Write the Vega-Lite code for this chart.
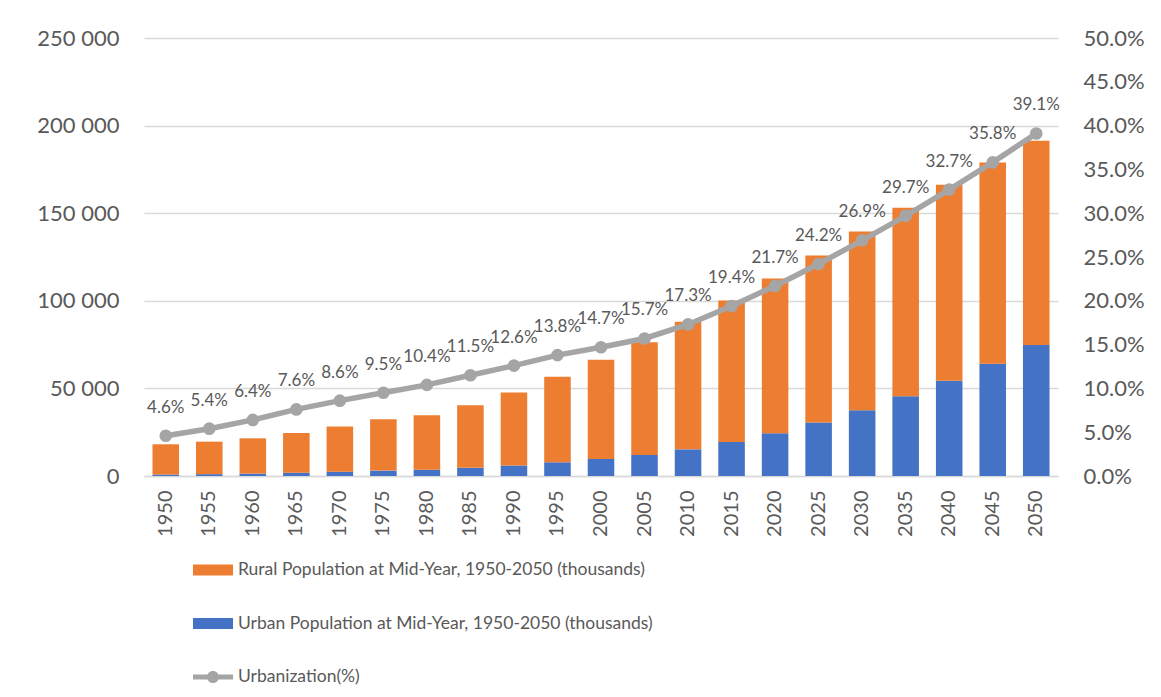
{
  "$schema": "https://vega.github.io/schema/vega-lite/v6.json",
  "width": 914,
  "height": 438,
  "autosize": {"type": "none"},
  "padding": {"left": 144, "top": 38, "right": 103, "bottom": 221},
  "background": "white",
  "config": {
    "view": {"stroke": null},
    "font": "Lato",
    "axis": {"labelColor": "#595959", "labelFont": "Lato", "title": null, "domain": false, "ticks": false, "tickSize": 0},
    "legend": {"labelFont": "Lato", "labelFontSize": 17.5, "labelColor": "#595959", "padding": 0, "offset": 0, "symbolSize": 1600, "rowPadding": 24.5, "labelOffset": 5, "title": null, "labelLimit": 0}
  },
  "datasets": {
    "pop": [
      {"year": "1950", "series": "Urban Population at Mid-Year, 1950-2050 (thousands)", "value": 830},
      {"year": "1950", "series": "Rural Population at Mid-Year, 1950-2050 (thousands)", "value": 17270},
      {"year": "1955", "series": "Urban Population at Mid-Year, 1950-2050 (thousands)", "value": 1060},
      {"year": "1955", "series": "Rural Population at Mid-Year, 1950-2050 (thousands)", "value": 18540},
      {"year": "1960", "series": "Urban Population at Mid-Year, 1950-2050 (thousands)", "value": 1380},
      {"year": "1960", "series": "Rural Population at Mid-Year, 1950-2050 (thousands)", "value": 20120},
      {"year": "1965", "series": "Urban Population at Mid-Year, 1950-2050 (thousands)", "value": 1870},
      {"year": "1965", "series": "Rural Population at Mid-Year, 1950-2050 (thousands)", "value": 22730},
      {"year": "1970", "series": "Urban Population at Mid-Year, 1950-2050 (thousands)", "value": 2430},
      {"year": "1970", "series": "Rural Population at Mid-Year, 1950-2050 (thousands)", "value": 25770},
      {"year": "1975", "series": "Urban Population at Mid-Year, 1950-2050 (thousands)", "value": 3080},
      {"year": "1975", "series": "Rural Population at Mid-Year, 1950-2050 (thousands)", "value": 29320},
      {"year": "1980", "series": "Urban Population at Mid-Year, 1950-2050 (thousands)", "value": 3610},
      {"year": "1980", "series": "Rural Population at Mid-Year, 1950-2050 (thousands)", "value": 31090},
      {"year": "1985", "series": "Urban Population at Mid-Year, 1950-2050 (thousands)", "value": 4650},
      {"year": "1985", "series": "Rural Population at Mid-Year, 1950-2050 (thousands)", "value": 35750},
      {"year": "1990", "series": "Urban Population at Mid-Year, 1950-2050 (thousands)", "value": 6000},
      {"year": "1990", "series": "Rural Population at Mid-Year, 1950-2050 (thousands)", "value": 41600},
      {"year": "1995", "series": "Urban Population at Mid-Year, 1950-2050 (thousands)", "value": 7820},
      {"year": "1995", "series": "Rural Population at Mid-Year, 1950-2050 (thousands)", "value": 48880},
      {"year": "2000", "series": "Urban Population at Mid-Year, 1950-2050 (thousands)", "value": 9750},
      {"year": "2000", "series": "Rural Population at Mid-Year, 1950-2050 (thousands)", "value": 56550},
      {"year": "2005", "series": "Urban Population at Mid-Year, 1950-2050 (thousands)", "value": 12000},
      {"year": "2005", "series": "Rural Population at Mid-Year, 1950-2050 (thousands)", "value": 64400},
      {"year": "2010", "series": "Urban Population at Mid-Year, 1950-2050 (thousands)", "value": 15220},
      {"year": "2010", "series": "Rural Population at Mid-Year, 1950-2050 (thousands)", "value": 72780},
      {"year": "2015", "series": "Urban Population at Mid-Year, 1950-2050 (thousands)", "value": 19440},
      {"year": "2015", "series": "Rural Population at Mid-Year, 1950-2050 (thousands)", "value": 80760},
      {"year": "2020", "series": "Urban Population at Mid-Year, 1950-2050 (thousands)", "value": 24460},
      {"year": "2020", "series": "Rural Population at Mid-Year, 1950-2050 (thousands)", "value": 88240},
      {"year": "2025", "series": "Urban Population at Mid-Year, 1950-2050 (thousands)", "value": 30470},
      {"year": "2025", "series": "Rural Population at Mid-Year, 1950-2050 (thousands)", "value": 95430},
      {"year": "2030", "series": "Urban Population at Mid-Year, 1950-2050 (thousands)", "value": 37550},
      {"year": "2030", "series": "Rural Population at Mid-Year, 1950-2050 (thousands)", "value": 102050},
      {"year": "2035", "series": "Urban Population at Mid-Year, 1950-2050 (thousands)", "value": 45470},
      {"year": "2035", "series": "Rural Population at Mid-Year, 1950-2050 (thousands)", "value": 107630},
      {"year": "2040", "series": "Urban Population at Mid-Year, 1950-2050 (thousands)", "value": 54380},
      {"year": "2040", "series": "Rural Population at Mid-Year, 1950-2050 (thousands)", "value": 111920},
      {"year": "2045", "series": "Urban Population at Mid-Year, 1950-2050 (thousands)", "value": 64080},
      {"year": "2045", "series": "Rural Population at Mid-Year, 1950-2050 (thousands)", "value": 114920},
      {"year": "2050", "series": "Urban Population at Mid-Year, 1950-2050 (thousands)", "value": 74840},
      {"year": "2050", "series": "Rural Population at Mid-Year, 1950-2050 (thousands)", "value": 116560}
    ],
    "urb": [
      {"year": "1950", "series": "Urbanization(%)", "pct": 0.046},
      {"year": "1955", "series": "Urbanization(%)", "pct": 0.054},
      {"year": "1960", "series": "Urbanization(%)", "pct": 0.064},
      {"year": "1965", "series": "Urbanization(%)", "pct": 0.076},
      {"year": "1970", "series": "Urbanization(%)", "pct": 0.086},
      {"year": "1975", "series": "Urbanization(%)", "pct": 0.095},
      {"year": "1980", "series": "Urbanization(%)", "pct": 0.104},
      {"year": "1985", "series": "Urbanization(%)", "pct": 0.115},
      {"year": "1990", "series": "Urbanization(%)", "pct": 0.126},
      {"year": "1995", "series": "Urbanization(%)", "pct": 0.138},
      {"year": "2000", "series": "Urbanization(%)", "pct": 0.147},
      {"year": "2005", "series": "Urbanization(%)", "pct": 0.157},
      {"year": "2010", "series": "Urbanization(%)", "pct": 0.173},
      {"year": "2015", "series": "Urbanization(%)", "pct": 0.194},
      {"year": "2020", "series": "Urbanization(%)", "pct": 0.217},
      {"year": "2025", "series": "Urbanization(%)", "pct": 0.242},
      {"year": "2030", "series": "Urbanization(%)", "pct": 0.269},
      {"year": "2035", "series": "Urbanization(%)", "pct": 0.297},
      {"year": "2040", "series": "Urbanization(%)", "pct": 0.327},
      {"year": "2045", "series": "Urbanization(%)", "pct": 0.358},
      {"year": "2050", "series": "Urbanization(%)", "pct": 0.391}
    ]
  },
  "layer": [
    {
      "data": {"name": "pop"},
      "mark": {"type": "bar"},
      "encoding": {
        "x": {
          "field": "year", "type": "ordinal",
          "scale": {"paddingInner": 0.39, "paddingOuter": 0.195},
          "axis": {"labelAngle": -90, "labelFontSize": 20, "labelPadding": 14, "domain": true, "domainColor": "#D9D9D9", "domainWidth": 1.5}
        },
        "y": {
          "field": "value", "type": "quantitative", "stack": "zero",
          "scale": {"domain": [0, 250000], "nice": false},
          "axis": {"orient": "left", "values": [0, 50000, 100000, 150000, 200000, 250000], "labelExpr": "replace(format(datum.value, ','), ',', ' ')", "labelFontSize": 22, "labelPadding": 25, "grid": true, "gridColor": "#D9D9D9", "gridWidth": 1.5}
        },
        "color": {
          "field": "series", "type": "nominal",
          "scale": {
            "domain": ["Rural Population at Mid-Year, 1950-2050 (thousands)", "Urban Population at Mid-Year, 1950-2050 (thousands)", "Urbanization(%)"],
            "range": ["#ED7D31", "#4472C4", "#A5A5A5"]
          },
          "legend": {
            "orient": "none", "legendX": 49, "legendY": 512, "direction": "vertical",
            "encode": {
              "symbols": {
                "update": {
                  "shape": {"signal": "datum.value === 'Urbanization(%)' ? 'M-1,-0.125H1V0.125H-1Z M-0.3,0A0.3,0.3 0 1,1 0.3,0A0.3,0.3 0 1,1 -0.3,0Z' : 'M-1,-0.27H1V0.27H-1Z'"},
                  "fill": {"scale": "color", "field": "value"},
                  "stroke": {"value": "transparent"},
                  "strokeWidth": {"value": 0},
                  "opacity": {"value": 1},
                  "size": {"value": 1600}
                }
              }
            }
          }
        },
        "order": {"field": "series", "sort": "descending"}
      }
    },
    {
      "data": {"name": "urb"},
      "encoding": {
        "x": {"field": "year", "type": "ordinal"},
        "y": {
          "field": "pct", "type": "quantitative",
          "scale": {"domain": [0, 0.5], "nice": false},
          "axis": {"orient": "right", "values": [0, 0.05, 0.1, 0.15, 0.2, 0.25, 0.3, 0.35, 0.4, 0.45, 0.5], "format": ".1%", "labelFontSize": 22, "labelPadding": 25, "grid": false}
        }
      },
      "layer": [
        {"mark": {"type": "line", "strokeWidth": 5.5}, "encoding": {"color": {"field": "series", "type": "nominal"}}},
        {"mark": {"type": "point", "filled": true, "size": 160, "opacity": 1}, "encoding": {"color": {"field": "series", "type": "nominal"}}},
        {"mark": {"type": "text", "dy": -28, "fontSize": 17, "color": "#595959", "font": "Lato"}, "encoding": {"text": {"field": "pct", "type": "quantitative", "format": ".1%"}}}
      ]
    }
  ],
  "resolve": {"scale": {"y": "independent"}}
}
